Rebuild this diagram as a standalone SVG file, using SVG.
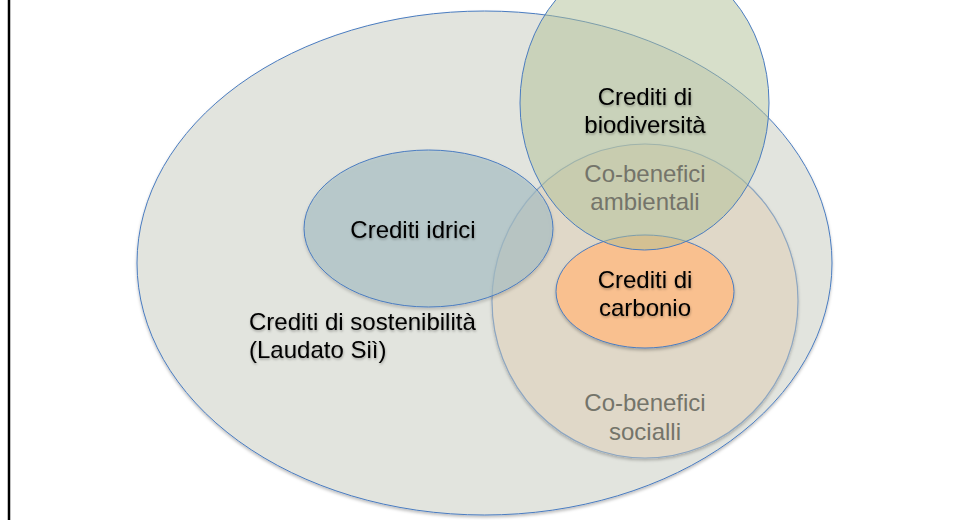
<svg xmlns="http://www.w3.org/2000/svg" width="954" height="520" viewBox="0 0 954 520">
  <defs>
    <filter id="sh" x="-10%" y="-10%" width="120%" height="125%">
      <feDropShadow dx="0" dy="2" stdDeviation="1.5" flood-color="#000" flood-opacity="0.25"/>
    </filter>
    <filter id="tsh" x="-10%" y="-20%" width="120%" height="150%">
      <feDropShadow dx="0.5" dy="1.5" stdDeviation="1.2" flood-color="#000" flood-opacity="0.3"/>
    </filter>
  </defs>
  <style>
    .set { stroke: #4a7cc0; stroke-width: 1; }
    .lbl { font-family: "Liberation Sans", Arial, sans-serif; font-size: 24px; text-anchor: middle; fill: #000; }
    .co { fill: #74746a; }
    .left { text-anchor: start; }
  </style>
  <rect x="0" y="0" width="954" height="520" fill="#ffffff"/>
  <line x1="9" y1="0" x2="9" y2="520" stroke="#000" stroke-width="2.5"/>

  <g id="sostenibilita">
    <ellipse class="set" cx="484.5" cy="263" rx="347.5" ry="252" fill="#e2e4de" filter="url(#sh)"/>
  </g>
  <g id="cobenefici-sociali">
    <ellipse cx="645" cy="301" rx="153" ry="157" fill="#e2d9c8" fill-opacity="0.95" stroke="#8ea6c0" stroke-width="1.2" filter="url(#sh)"/>
  </g>
  <g id="idrici">
    <ellipse class="set" cx="428.5" cy="228.5" rx="124.5" ry="78.5" fill="#a9c1c8" fill-opacity="0.6" filter="url(#sh)"/>
  </g>
  <g id="carbonio">
    <ellipse class="set" cx="645" cy="291.5" rx="89" ry="56.5" fill="#f9c08f" filter="url(#sh)"/>
  </g>
  <g id="biodiversita">
    <ellipse class="set" cx="644.5" cy="103" rx="124.5" ry="147" fill="#b0c095" fill-opacity="0.5"/>
  </g>

  <g id="labels" filter="url(#tsh)">
    <text class="lbl" x="645" y="105">Crediti di</text>
    <text class="lbl" x="645" y="133">biodiversità</text>
    <text class="lbl" x="413" y="238">Crediti idrici</text>
    <text class="lbl" x="645" y="288">Crediti di</text>
    <text class="lbl" x="645" y="316">carbonio</text>
    <text class="lbl left" x="249" y="330">Crediti di sostenibilità</text>
    <text class="lbl left" x="249" y="358">(Laudato Siì)</text>
  </g>
  <g id="co-labels">
    <text class="lbl co" x="645" y="182">Co-benefici</text>
    <text class="lbl co" x="645" y="210">ambientali</text>
    <text class="lbl co" x="645" y="411">Co-benefici</text>
    <text class="lbl co" x="645" y="440">socialli</text>
  </g>
</svg>
